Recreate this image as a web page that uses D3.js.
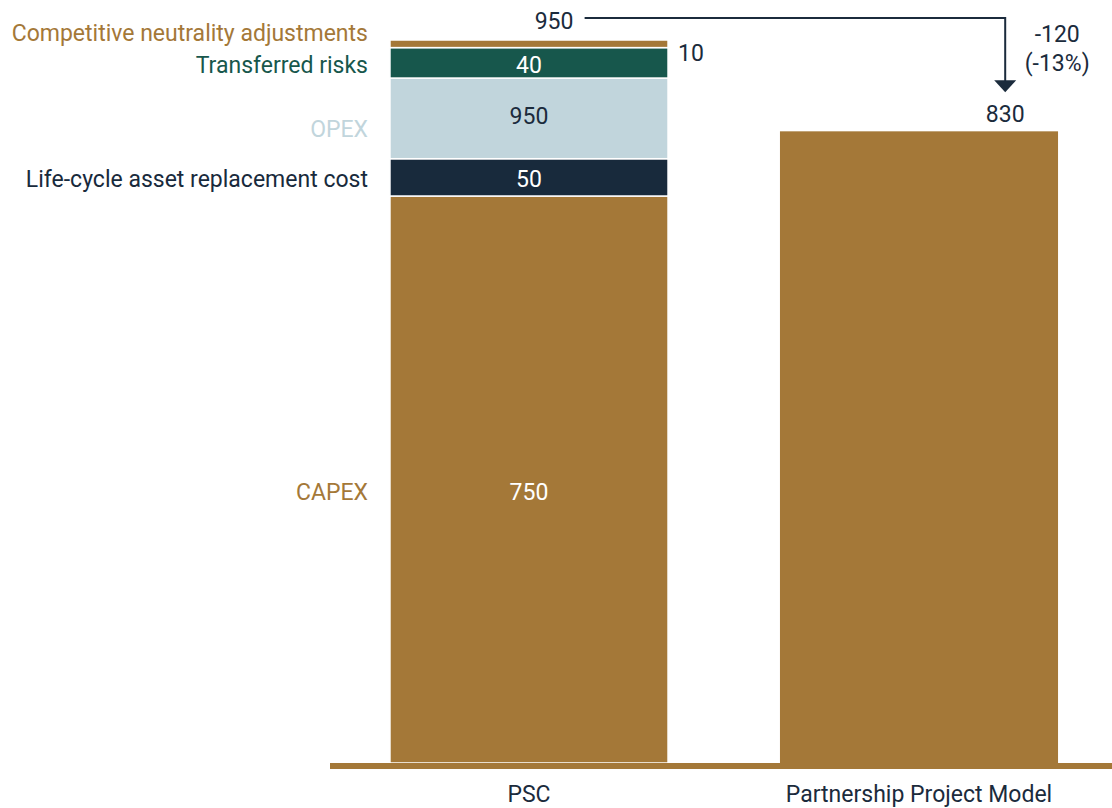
<!DOCTYPE html>
<html>
<head>
<meta charset="utf-8">
<script src="https://cdn.jsdelivr.net/npm/d3@7"></script>
<style>
  html, body { margin: 0; padding: 0; background: #fff; }
  svg { display: block; font-family: Roboto, "Noto Sans", sans-serif; }
</style>
</head>
<body>
<svg id="chart"></svg>
<script>
// bars
const categories = ["PSC", "Partnership Project Model"];
const segments = ["CAPEX", "Life-cycle asset replacement cost", "OPEX", "Transferred risks", "Competitive neutrality adjustments"];
// heights as drawn in the picture
const pscValues = [745, 49, 106, 40, 10];
// labels as printed on the original (OPEX reads 950)
const segmentLabels = ["750", "50", "950", "40", "10"];
const pscTotal = 950;
const ppmValue = 830;
const diffLabels = ["-120", "(-13%)"];

const width = 1112, height = 808;
const brown = "#a47838", green = "#17574c", light = "#c1d5dc", navy = "#182a3c", ink = "#1b2b3c";
const segColors = [brown, navy, light, green, brown];
const labelColors = [brown, navy, light, green, brown];
const innerColors = ["#fff", "#fff", ink, "#fff", ink];
const labelOffsets = [20.5, 9.7, 19, 9.7, -2.5];   // left label baseline vs segment mid
const innerOffsets = [20.5, 9.7, 6, 9.7, 17];

const svg = d3.select("#chart").attr("width", width).attr("height", height);

const x = d3.scaleBand()
    .domain(categories)
    .range([334, 1114])
    .paddingInner(0.287)
    .paddingOuter(0.1435);

const y = d3.scaleLinear()
    .domain([0, pscTotal])
    .range([763, 40]);

// stack PSC
let acc = 0;
const stack = pscValues.map((v, i) => {
    const d = {name: segments[i], y0: acc, y1: acc + v, i};
    acc += v;
    return d;
});

const fs = 23;

// psc segments
svg.append("g").selectAll("rect")
    .data(stack)
    .join("rect")
      .attr("x", x("PSC"))
      .attr("width", x.bandwidth())
      .attr("y", d => y(d.y1))
      .attr("height", d => y(d.y0) - y(d.y1))
      .attr("fill", d => segColors[d.i])
      .attr("stroke", "#fff")
      .attr("stroke-width", 1.5);

// partnership bar
svg.append("rect")
    .attr("x", x("Partnership Project Model"))
    .attr("width", x.bandwidth())
    .attr("y", y(ppmValue))
    .attr("height", y(0) - y(ppmValue))
    .attr("fill", brown);

// left labels
svg.append("g").selectAll("text")
    .data(stack)
    .join("text")
      .attr("x", x("PSC") - 22)
      .attr("y", d => y((d.y0 + d.y1) / 2) + labelOffsets[d.i])
      .attr("text-anchor", "end")
      .attr("font-size", fs)
      .attr("fill", d => labelColors[d.i])
      .text(d => d.name);

// values in bar (last one sits outside)
svg.append("g").selectAll("text")
    .data(stack)
    .join("text")
      .attr("x", d => d.i === 4 ? x("PSC") + x.bandwidth() + 10 : x("PSC") + x.bandwidth() / 2)
      .attr("y", d => y((d.y0 + d.y1) / 2) + innerOffsets[d.i])
      .attr("text-anchor", d => d.i === 4 ? "start" : "middle")
      .attr("font-size", fs)
      .attr("fill", d => innerColors[d.i])
      .text(d => segmentLabels[d.i]);

// baseline / x-axis
svg.append("line")
    .attr("x1", 330).attr("x2", width)
    .attr("y1", y(0) + 3).attr("y2", y(0) + 3)
    .attr("stroke", brown)
    .attr("stroke-width", 6);

svg.append("g")
    .attr("transform", `translate(0, ${y(0)})`)
    .call(d3.axisBottom(x).tickSize(0).tickPadding(23))
    .call(g => g.select(".domain").remove())
    .call(g => g.selectAll("text")
        .attr("font-size", fs)
        .attr("font-family", "Roboto, sans-serif")
        .attr("fill", ink));

// difference arrow
const ax = x("Partnership Project Model") + x.bandwidth() * 0.81;
const topY = y(pscTotal) - 22;
const tipY = y(ppmValue) - 39;

svg.append("text")
    .attr("x", x("PSC") + x.bandwidth() * 0.59)
    .attr("y", y(pscTotal) - 11)
    .attr("text-anchor", "middle")
    .attr("font-size", fs)
    .attr("fill", ink)
    .text(pscTotal);

svg.append("path")
    .attr("d", `M${x("PSC") + x.bandwidth() * 0.7},${topY}H${ax}V${tipY - 10}`)
    .attr("fill", "none")
    .attr("stroke", ink)
    .attr("stroke-width", 2);

svg.append("path")
    .attr("d", `M${ax - 11},${tipY - 12}L${ax + 11},${tipY - 12}L${ax},${tipY}Z`)
    .attr("fill", ink);

svg.append("text")
    .attr("x", ax)
    .attr("y", y(ppmValue) - 9)
    .attr("text-anchor", "middle")
    .attr("font-size", fs)
    .attr("fill", ink)
    .text(ppmValue);

svg.append("g").selectAll("text")
    .data(diffLabels)
    .join("text")
      .attr("x", ax + 52)
      .attr("y", (d, i) => 42 + i * 29)
      .attr("text-anchor", "middle")
      .attr("font-size", fs)
      .attr("fill", ink)
      .text(d => d);
</script>
</body>
</html>
